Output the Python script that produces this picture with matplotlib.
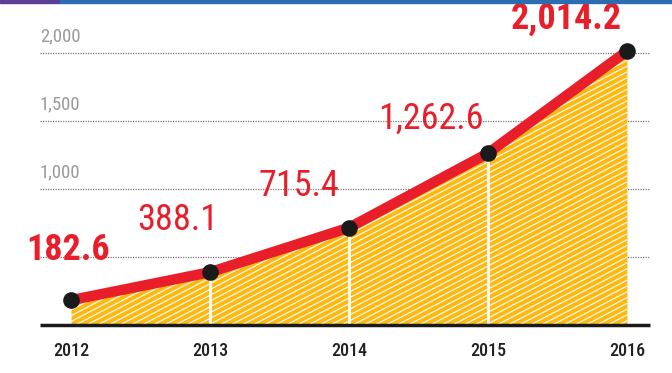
import matplotlib.pyplot as plt
import numpy as np
from matplotlib.patches import Rectangle

years = [2012, 2013, 2014, 2015, 2016]
values = [182.6, 388.1, 715.4, 1262.6, 2014.2]
labels = ["182.6", "388.1", "715.4", "1,262.6", "2,014.2"]
label_bold = [True, False, False, False, True]
grid_vals = [500, 1000, 1500, 2000]
grid_labels = ["", "1,000", "1,500", "2,000"]

RED = "#e81f2a"
ORANGE = "#fdb913"
FONT = ["Roboto Condensed", "Archivo Narrow", "DejaVu Sans"]

fig = plt.figure(figsize=(6.72, 3.73), dpi=100)
ax = fig.add_axes([0, 0, 1, 1])
ax.set_xlim(2011.489, 2016.324)
ax.set_ylim(-352.9, 2389.7)
ax.axis("off")

x0, x1 = 2011.777, 2016.165

# dotted gridlines with labels sitting above them
for v, t in zip(grid_vals, grid_labels):
    ax.hlines(v, x0, x1, colors="#777777", linestyles=(0, (1, 1)), linewidth=0.9, zorder=1)
    if t:
        ax.text(x0, v + 55, t, color="#9a9a9a", fontsize=13.5, family=FONT,
                ha="left", va="bottom", zorder=1)

# hatched fill under the curve (sketchy white strokes)
poly = ax.fill_between(years, 0, values, color=ORANGE, linewidth=0, zorder=2)
clip = poly.get_paths()[0]
xs = np.linspace(2009.0, 2016.5, 95)
for xa in xs:
    ln, = ax.plot([xa, xa + 4.5], [0, 2400], color="white", linewidth=0.9,
                  alpha=0.9, zorder=3)
    ln.set_clip_path(clip, transform=ax.transData)

# white vertical dividers
for y, v in zip(years[1:-1], values[1:-1]):
    ax.vlines(y, 0, v, colors="white", linewidth=2, zorder=4)

ax.plot(years, values, color=RED, linewidth=7.5, solid_capstyle="butt", zorder=5)
ax.scatter(years, values, s=120, color="#1a1a1a", zorder=6)

# baseline
ax.hlines(0, x0, x1, colors="#1a1a1a", linewidth=2.5, zorder=7)

for y in years:
    ax.text(y, -190, str(y), ha="center", va="center", fontsize=13,
            color="#222222", family=FONT, fontweight="medium")

label_pos = [(2011.98, 550), (2012.77, 775), (2013.64, 1020), (2014.59, 1520), (2015.56, 2250)]
for (lx, ly), t, b in zip(label_pos, labels, label_bold):
    ax.text(lx, ly, t, ha="center", va="center", fontsize=26, color=RED,
            family=FONT, fontweight="heavy" if b else "normal", zorder=8)

# top colour bar
fig.patches.append(Rectangle((0, 0.993), 0.09, 0.007, transform=fig.transFigure,
                             color="#5b3f96", zorder=10))
fig.patches.append(Rectangle((0.09, 0.993), 0.91, 0.007, transform=fig.transFigure,
                             color="#2a6db0", zorder=10))

fig.savefig("out.png", dpi=100)
